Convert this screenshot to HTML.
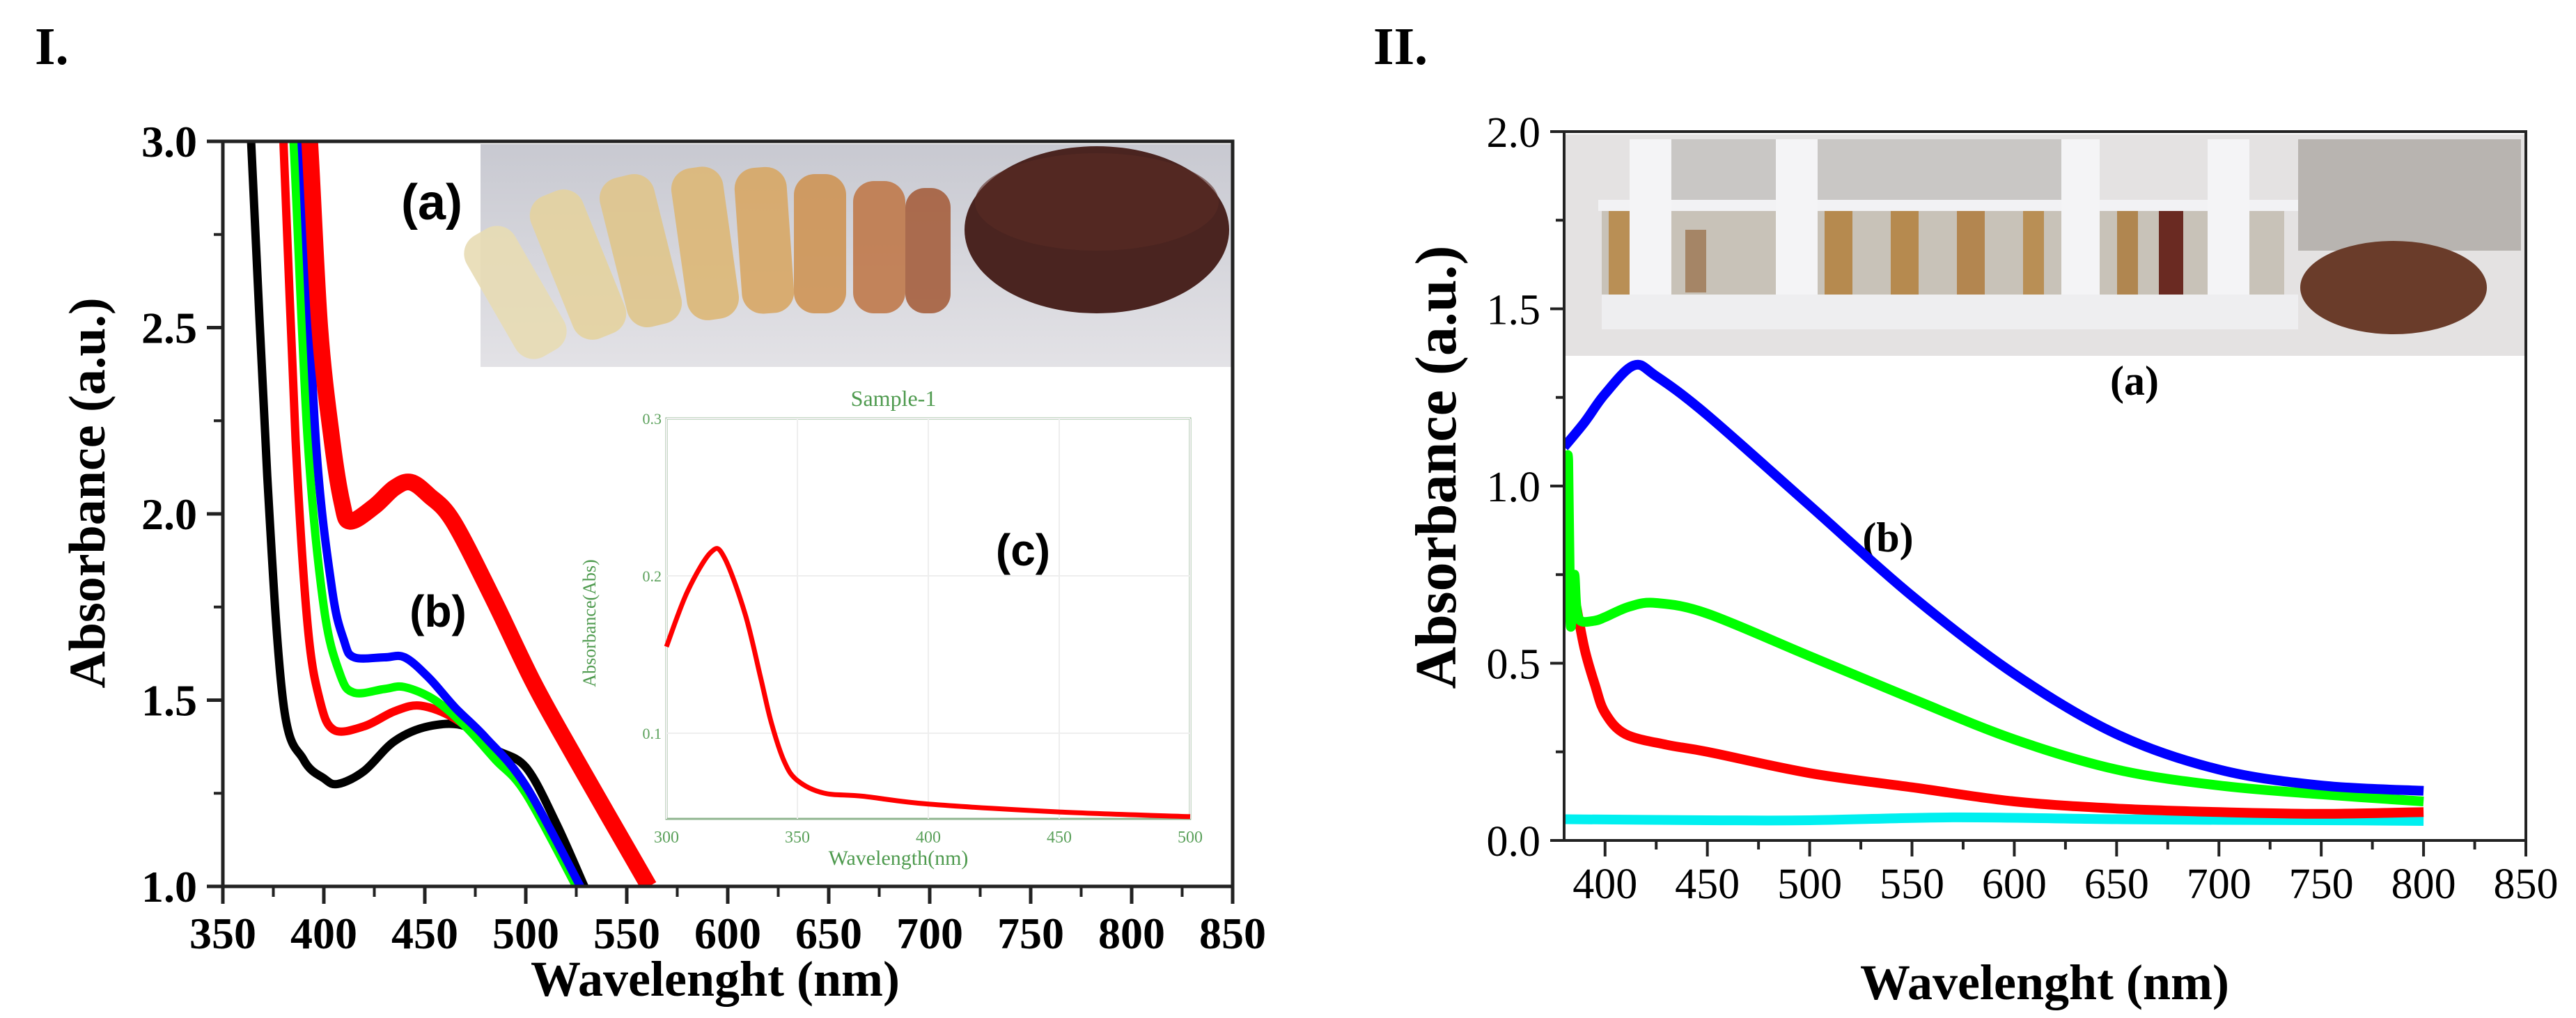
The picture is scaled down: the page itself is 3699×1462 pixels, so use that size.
<!DOCTYPE html>
<html><head><meta charset="utf-8"><style>
html,body{margin:0;padding:0;background:#fff;}
svg{display:block;font-family:"Liberation Serif",serif;}
</style></head><body>
<svg id="fig" width="3699" height="1462" viewBox="0 0 3699 1462" xmlns="http://www.w3.org/2000/svg">
<defs>
<clipPath id="clipL"><rect x="320" y="203" width="1450" height="1070"/></clipPath>
<clipPath id="clipR"><rect x="2246" y="189" width="1381" height="1018"/></clipPath>
<linearGradient id="bgL" x1="0" y1="0" x2="0" y2="1"><stop offset="0" stop-color="#c8c9d1"/><stop offset="1" stop-color="#e3e2e6"/></linearGradient>
</defs>
<text x="50" y="92" font-size="76" font-weight="bold">I.</text>
<text x="1972" y="92" font-size="76" font-weight="bold">II.</text>

<!-- Left photo -->
<g>
<rect x="690" y="207" width="1078" height="320" fill="url(#bgL)"/>
<g opacity="0.9">
<rect x="700" y="320" width="80" height="200" rx="30" fill="#e8dcb4" transform="rotate(-30 740 420)"/>
<rect x="790" y="270" width="80" height="220" rx="30" fill="#e5d3a0" transform="rotate(-22 830 380)"/>
<rect x="880" y="250" width="80" height="220" rx="30" fill="#e0c68c" transform="rotate(-14 920 360)"/>
<rect x="975" y="240" width="75" height="220" rx="30" fill="#ddb877" transform="rotate(-8 1010 350)"/>
<rect x="1060" y="240" width="75" height="210" rx="30" fill="#d8a866" transform="rotate(-4 1100 345)"/>
<rect x="1140" y="250" width="75" height="200" rx="30" fill="#cf9556"/>
<rect x="1225" y="260" width="75" height="190" rx="30" fill="#c07a4c"/>
<rect x="1300" y="270" width="65" height="180" rx="28" fill="#a6603f"/>
</g>
<ellipse cx="1575" cy="330" rx="190" ry="120" fill="#4a2420"/>
<ellipse cx="1575" cy="290" rx="175" ry="70" fill="#5a2c24" opacity="0.6"/>
</g>
<text x="620" y="315" font-size="72" font-weight="bold" text-anchor="middle" font-family="Liberation Sans,sans-serif">(a)</text>
<text x="629" y="900" font-size="64" font-weight="bold" text-anchor="middle" font-family="Liberation Sans,sans-serif">(b)</text>

<g id="inset"></g>
<text x="1469" y="812" font-size="64" font-weight="bold" text-anchor="middle" font-family="Liberation Sans,sans-serif">(c)</text>

<g id="left"></g>

<!-- Right photo -->
<g>
<rect x="2246" y="193" width="1380" height="318" fill="#e4e2e2"/>
<rect x="2400" y="200" width="560" height="100" fill="#c9c7c5"/>
<rect x="2300" y="303" width="980" height="120" fill="#c8c2b8"/>
<rect x="2310" y="303" width="30" height="120" fill="#b98f55"/>
<rect x="2420" y="330" width="30" height="90" fill="#a58566"/>
<rect x="2620" y="303" width="40" height="120" fill="#b68a4f"/>
<rect x="2715" y="303" width="40" height="120" fill="#b68a4f"/>
<rect x="2810" y="303" width="40" height="120" fill="#b38650"/>
<rect x="2905" y="303" width="30" height="120" fill="#b98f55"/>
<rect x="3040" y="303" width="30" height="120" fill="#b08650"/>
<rect x="3100" y="290" width="35" height="133" fill="#6a2a22"/>
<rect x="2295" y="287" width="1010" height="16" fill="#f2f2f4"/>
<rect x="2340" y="200" width="60" height="270" fill="#f4f4f6"/>
<rect x="2550" y="200" width="60" height="270" fill="#f4f4f6"/>
<rect x="2960" y="200" width="55" height="270" fill="#f4f4f6"/>
<rect x="3170" y="200" width="60" height="270" fill="#f4f4f6"/>
<rect x="2300" y="423" width="1000" height="50" fill="#eeeef0"/>
<rect x="3300" y="200" width="320" height="160" fill="#b8b4b0"/>
<ellipse cx="3437" cy="413" rx="134" ry="67" fill="#6a3c2a"/>
</g>
<text x="3065" y="567" font-size="60" text-anchor="middle" font-weight="bold">(a)</text>
<text x="2711" y="792" font-size="60" text-anchor="middle" font-weight="bold">(b)</text>

<g id="right"></g>
</svg>
<script>
// Left panel data
const leftX = [350,400,450,500,550,600,650,700,750,800,850];
const leftYTicks = [1.0,1.5,2.0,2.5,3.0];
const blackWl = [360,364,372,380,390,400,407,420,435,452,470,484,500,515,529];
const blackAbs = [3.3,3.0,2.1,1.49,1.34,1.29,1.275,1.31,1.39,1.43,1.43,1.37,1.32,1.17,1.0];
const red1Wl = [376,380,386,392,398,405,420,435,448,465,480,500,525];
const red1Abs = [3.3,3.0,2.2,1.7,1.5,1.42,1.43,1.47,1.485,1.45,1.38,1.25,1.0];
const greenWl = [381,385,392,400,408,415,430,440,455,470,485,500,525];
const greenAbs = [3.3,3.0,2.2,1.75,1.57,1.52,1.53,1.535,1.5,1.43,1.34,1.25,1.0];
const blueWl = [385,389,396,404,410,415,430,440,452,465,480,500,527];
const blueAbs = [3.3,3.0,2.2,1.8,1.66,1.615,1.615,1.615,1.56,1.48,1.40,1.27,1.0];
const red2Wl = [389,393,398,404,409,413,425,435,443,452,464,484,504,525,561];
const red2Abs = [3.3,3.0,2.5,2.2,2.03,1.98,2.02,2.07,2.085,2.05,1.98,1.77,1.545,1.34,1.0];
// Inset data
const insetX = [300,350,400,450,500];
const insetYTicks = [0.1,0.2,0.3];
const insetWl = [300,308,317,322,330,336,340,345,350,360,375,400,450,500];
const insetAbs = [0.155,0.19,0.215,0.212,0.176,0.135,0.107,0.082,0.070,0.062,0.060,0.055,0.050,0.047];
// Right panel data
const rightX = [400,450,500,550,600,650,700,750,800,850];
const rightYTicks = [0.0,0.5,1.0,1.5,2.0];
const rBlueWl = [380,390,400,414,425,450,500,550,600,650,700,750,800];
const rBlueAbs = [1.11,1.18,1.26,1.34,1.31,1.20,0.945,0.69,0.47,0.30,0.20,0.155,0.14];
const rGreenWl = [381,382,383,384,385,386,388,395,400,412,425,450,500,550,600,650,700,750,800];
const rGreenAbs = [1.0,1.07,0.63,0.66,0.75,0.66,0.62,0.62,0.63,0.66,0.67,0.64,0.52,0.40,0.285,0.20,0.155,0.13,0.11];
const rRedWl = [386,390,395,400,410,430,450,500,550,600,650,700,750,800];
const rRedAbs = [0.66,0.54,0.44,0.36,0.30,0.27,0.25,0.19,0.15,0.11,0.09,0.08,0.075,0.08];
const rCyanWl = [380,450,500,570,650,700,750,800];
const rCyanAbs = [0.06,0.057,0.057,0.065,0.06,0.058,0.057,0.055];

const NS='http://www.w3.org/2000/svg';
function mk(parent,tag,attrs){const e=document.createElementNS(NS,tag);for(const k in attrs)e.setAttribute(k,attrs[k]);parent.appendChild(e);return e;}
function linePath(xs,ys,fx,fy){
  const P=xs.map((w,i)=>[fx(w),fy(ys[i])]);
  let d='M'+P[0][0].toFixed(1)+' '+P[0][1].toFixed(1);
  for(let i=0;i<P.length-1;i++){
    const p0=P[Math.max(0,i-1)],p1=P[i],p2=P[i+1],p3=P[Math.min(P.length-1,i+2)];
    const c1=[p1[0]+(p2[0]-p0[0])/6,p1[1]+(p2[1]-p0[1])/6];
    const c2=[p2[0]-(p3[0]-p1[0])/6,p2[1]-(p3[1]-p1[1])/6];
    d+=' C'+c1[0].toFixed(1)+' '+c1[1].toFixed(1)+' '+c2[0].toFixed(1)+' '+c2[1].toFixed(1)+' '+p2[0].toFixed(1)+' '+p2[1].toFixed(1);
  }
  return d;
}

// ---- left
const L=document.getElementById('left');
const lx=v=>320+(v-350)/500*1450;
const ly=v=>1273-(v-1.0)/2.0*1070;
const lg=mk(L,'g',{'clip-path':'url(#clipL)'});
const lseries=[[blackWl,blackAbs,'#000',12,'series-black'],[red1Wl,red1Abs,'#f00',12,'series-red-thin'],[greenWl,greenAbs,'#0f0',12,'series-green'],[blueWl,blueAbs,'#00f',12,'series-blue'],[red2Wl,red2Abs,'#f00',24,'series-red-thick']];
lseries.forEach(s=>{
  const p=mk(lg,'path',{d:linePath(s[0],s[1],lx,ly),fill:'none',stroke:s[2],'stroke-width':s[3],'stroke-linejoin':'round'});
  
  
});
const lframe=mk(L,'rect',{x:320,y:203,width:1450,height:1070,fill:'none',stroke:'#222','stroke-width':5});


leftX.forEach((v,i)=>{
  mk(L,'line',{x1:lx(v),y1:1273,x2:lx(v),y2:1298,stroke:'#222','stroke-width':5});
  if(i<leftX.length-1) mk(L,'line',{x1:lx(v+25),y1:1273,x2:lx(v+25),y2:1288,stroke:'#222','stroke-width':4});
  const t=mk(L,'text',{x:lx(v),y:1362,'font-size':64,'font-weight':'bold','text-anchor':'middle'});
  t.textContent=v;
  
  
});
leftYTicks.forEach((v,i)=>{
  mk(L,'line',{x1:297,y1:ly(v),x2:320,y2:ly(v),stroke:'#222','stroke-width':5});
  if(i<leftYTicks.length-1) mk(L,'line',{x1:307,y1:ly(v+0.25),x2:320,y2:ly(v+0.25),stroke:'#222','stroke-width':4});
  const t=mk(L,'text',{x:283,y:ly(v)+22,'font-size':64,'font-weight':'bold','text-anchor':'end'});
  t.textContent=v.toFixed(1);
  
  
});
let t=mk(L,'text',{x:1027,y:1430,'font-size':72,'font-weight':'bold','text-anchor':'middle'});
t.textContent='Wavelenght (nm)';


t=mk(L,'text',{x:0,y:0,'font-size':74,'font-weight':'bold','text-anchor':'middle',transform:'translate(150 708) rotate(-90)'});
t.textContent='Absorbance (a.u.)';



// ---- inset
const I=document.getElementById('inset');
const ix=v=>957+(v-300)/200*752;
const iy=v=>1176-(v-0.0456)/(0.3-0.0456)*575;
mk(I,'rect',{x:957,y:601,width:752,height:575,fill:'#fff',stroke:'#8fb58f','stroke-width':3});
insetX.forEach(v=>{
  mk(I,'line',{x1:ix(v),y1:601,x2:ix(v),y2:1176,stroke:'#eee','stroke-width':2});
  const tt=mk(I,'text',{x:ix(v),y:1210,'font-size':24,fill:'#5aa05a','text-anchor':'middle'});
  tt.textContent=v;
  
  
});
insetYTicks.forEach(v=>{
  mk(I,'line',{x1:957,y1:iy(v),x2:1709,y2:iy(v),stroke:'#eee','stroke-width':2});
  const tt=mk(I,'text',{x:950,y:iy(v)+8,'font-size':22,fill:'#5aa05a','text-anchor':'end'});
  tt.textContent=v.toFixed(1);
  
  
});
const ip=mk(I,'path',{d:linePath(insetWl,insetAbs,ix,iy),fill:'none',stroke:'#f00','stroke-width':7,'stroke-linejoin':'round'});


t=mk(I,'text',{x:1283,y:583,'font-size':32,fill:'#4e9a4e','text-anchor':'middle'});
t.textContent='Sample-1';


t=mk(I,'text',{x:1290,y:1242,'font-size':30,fill:'#4e9a4e','text-anchor':'middle'});
t.textContent='Wavelength(nm)';


t=mk(I,'text',{x:0,y:0,'font-size':26,fill:'#4e9a4e','text-anchor':'middle',transform:'translate(855 895) rotate(-90)'});
t.textContent='Absorbance(Abs)';



// ---- right
const R=document.getElementById('right');
const rx=v=>2246+(v-380)/470*1381;
const ry=v=>1207-v/2.0*1018;
const rg=mk(R,'g',{'clip-path':'url(#clipR)'});
const rseries=[[rCyanWl,rCyanAbs,'#00f0f0','series-cyan'],[rRedWl,rRedAbs,'#f00','series-red'],[rGreenWl,rGreenAbs,'#0f0','series-green'],[rBlueWl,rBlueAbs,'#00f','series-blue']];
rseries.forEach(s=>{
  const p=mk(rg,'path',{d:linePath(s[0],s[1],rx,ry),fill:'none',stroke:s[2],'stroke-width':14,'stroke-linejoin':'round'});
  
  
});
mk(R,'polyline',{points:`2226,189 3627,189 3627,1207 2226,1207`,fill:'none',stroke:'#222','stroke-width':4});
mk(R,'line',{x1:2246,y1:189,x2:2246,y2:1207,stroke:'#222','stroke-width':4});
rightX.forEach((v,i)=>{
  mk(R,'line',{x1:rx(v),y1:1207,x2:rx(v),y2:1230,stroke:'#222','stroke-width':4});
  if(i<rightX.length-1) mk(R,'line',{x1:rx(v+25),y1:1207,x2:rx(v+25),y2:1220,stroke:'#222','stroke-width':4});
  const tt=mk(R,'text',{x:rx(v),y:1290,'font-size':62,'text-anchor':'middle'});
  tt.textContent=v;
  
  
});
rightYTicks.forEach((v,i)=>{
  mk(R,'line',{x1:2226,y1:ry(v),x2:2246,y2:ry(v),stroke:'#222','stroke-width':4});
  if(i<rightYTicks.length-1) mk(R,'line',{x1:2234,y1:ry(v+0.25),x2:2246,y2:ry(v+0.25),stroke:'#222','stroke-width':4});
  const tt=mk(R,'text',{x:2212,y:ry(v)+22,'font-size':62,'text-anchor':'end'});
  tt.textContent=v.toFixed(1);
  
  
});
t=mk(R,'text',{x:2936,y:1435,'font-size':72,'font-weight':'bold','text-anchor':'middle'});
t.textContent='Wavelenght (nm)';


t=mk(R,'text',{x:0,y:0,'font-size':84,'font-weight':'bold','text-anchor':'middle',transform:'translate(2090 671) rotate(-90)'});
t.textContent='Absorbance (a.u.)';


</script>
</body></html>
